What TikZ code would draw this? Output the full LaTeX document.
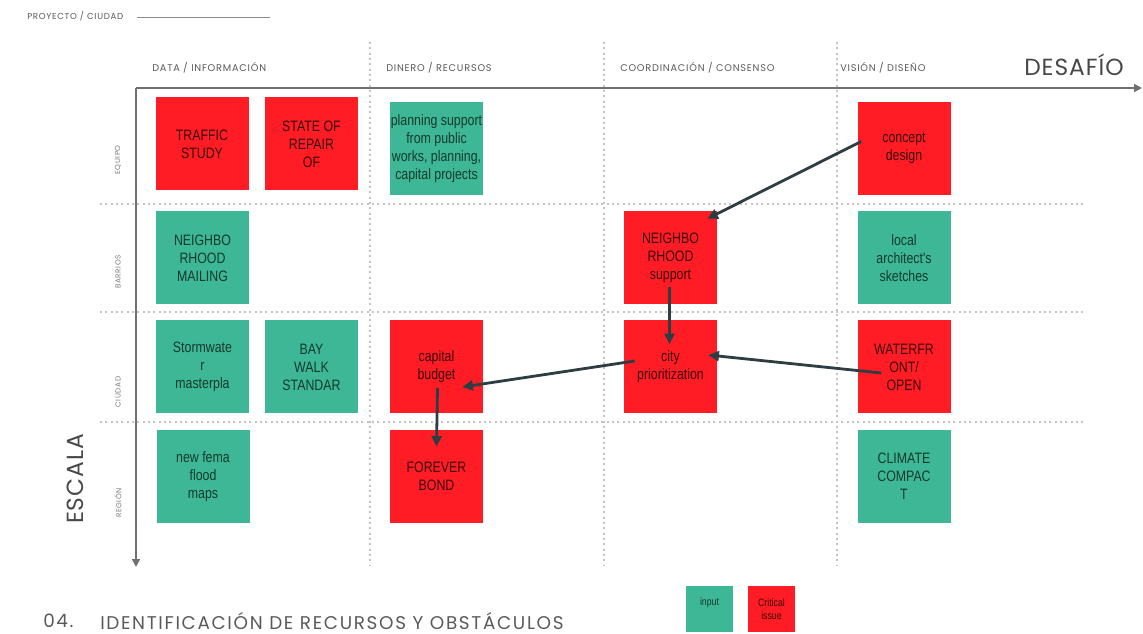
\documentclass[tikz,border=0pt]{standalone}
\usepackage{fontspec}
\setmainfont{Liberation Sans}
\newfontfamily\boxfont[FakeStretch=0.82]{Liberation Sans}
\newfontfamily\headfont[LetterSpace=8]{Poppins}
\newfontfamily\bigfont[LetterSpace=4]{Poppins}
\newfontfamily\footfont[LetterSpace=9]{Poppins}
\usetikzlibrary{arrows.meta,calc}
\definecolor{critred}{HTML}{FF1C24}
\definecolor{inpgreen}{HTML}{3DB795}
\definecolor{redtext}{HTML}{3A0A0C}
\definecolor{greentext}{HTML}{123A2D}
\definecolor{arrowc}{HTML}{2E3D42}
\definecolor{axisgray}{HTML}{707070}
\definecolor{divgray}{HTML}{C4C4C4}
\definecolor{headgray}{HTML}{5A5A5A}
\begin{document}
\begin{tikzpicture}[x=0.75pt,y=-0.75pt,
  box/.style={minimum width=69.75pt, minimum height=69.75pt, inner sep=0pt, align=center,
    font=\boxfont\fontsize{11.3}{13.5}\selectfont},
  crit/.style={box, fill=critred, text=redtext},
  inp/.style={box, fill=inpgreen, text=greentext},
  legbox/.style={minimum width=35pt, minimum height=35pt, inner sep=0pt, align=center,
    font=\boxfont\fontsize{8}{10}\selectfont},
  link/.style={draw=arrowc, line width=2.1pt, -{Triangle[length=8pt,width=7.5pt]}},
  divider/.style={draw=divgray, line width=0.8pt, dash pattern=on 1.5pt off 2.5pt},
  axis/.style={draw=axisgray, line width=1.3pt, -{Triangle[length=6pt,width=6pt]}},
  colhead/.style={font=\headfont\fontsize{7.3}{8}\selectfont, text=headgray, anchor=west, inner sep=0pt},
  rowhead/.style={font=\headfont\fontsize{5.5}{6}\selectfont, text=headgray!80, rotate=90, inner sep=0pt},
  bigtitle/.style={font=\bigfont\fontsize{17.5}{19}\selectfont, text=headgray!80!black, inner sep=0pt},
  foot/.style={font=\footfont\fontsize{13.8}{15}\selectfont, text=headgray, anchor=west, inner sep=0pt}
]
\useasboundingbox (0,0) rectangle (1143,634);
\fill[white] (0,0) rectangle (1143,634);

% dividers
\foreach \x in {370,604,837} \draw[divider] (\x,42) -- (\x,565);
\foreach \y in {204,312,422} \draw[divider] (100,\y) -- (1085,\y);

% axes
\coordinate (origin) at (136,88);
\coordinate (xend) at (1142,88);
\coordinate (yend) at (136,567);
\draw[axis] (origin) -- (xend);
\draw[axis] (origin) -- (yend);

% headers
\node[font=\headfont\fontsize{6.5}{7}\selectfont, text=headgray, anchor=west, inner sep=0pt] (proj) at (27,16) {PROYECTO / CIUDAD};
\coordinate (projl) at (137,17);
\coordinate (projr) at (270,17);
\draw[headgray!70, line width=0.7pt] (projl) -- (projr);

\node[colhead] (h1) at (152,68) {DATA / INFORMACIÓN};
\node[colhead] (h2) at (386,68) {DINERO / RECURSOS};
\node[colhead] (h3) at (620,68) {COORDINACIÓN / CONSENSO};
\node[colhead] (h4) at (840,68) {VISIÓN / DISEÑO};
\node[bigtitle, anchor=west] (desafio) at (1024,65) {DESAFÍO};

\node[rowhead] (r1) at (118,160) {EQUIPO};
\node[rowhead] (r2) at (118,272) {BARRIOS};
\node[rowhead] (r3) at (118,392) {CIUDAD};
\node[rowhead] (r4) at (118,503) {REGIÓN};
\node[bigtitle, rotate=90] (escala) at (75,479) {ESCALA};

\node[foot] (num) at (43,621) {04.};
\node[foot] (title) at (100,621) {IDENTIFICACIÓN DE RECURSOS Y OBSTÁCULOS};

% boxes
\node[crit] (traffic) at (202,144) {TRAFFIC\\STUDY};
\node[crit] (state) at (311.5,144) {STATE OF\\REPAIR\\OF};
\node[inp] (planning) at (436.5,148.5) {planning support\\from public\\works, planning,\\capital projects};
\node[crit] (concept) at (904,148.5) {concept\\design};

\node[inp] (mailing) at (202.5,258) {NEIGHBO\\RHOOD\\MAILING};
\node[crit] (nbs) at (670.5,257.5) {NEIGHBO\\RHOOD\\support};
\node[inp] (local) at (904,258) {local\\architect's\\sketches};

\node[inp] (storm) at (202.5,367) {Stormwate\\r\\masterpla};
\node[inp] (bay) at (311.5,367) {BAY\\WALK\\STANDAR};
\node[crit] (capital) at (436.5,367) {capital\\budget};
\node[crit] (city) at (670.5,367) {city\\prioritization};
\node[crit] (water) at (904,367) {WATERFR\\ONT/\\OPEN};

\node[inp] (fema) at (203,477) {new fema\\flood\\maps};
\node[crit] (forever) at (436.5,476.5) {FOREVER\\BOND};
\node[inp] (climate) at (904,476.5) {CLIMATE\\COMPAC\\T};

% legend
\node[legbox, fill=inpgreen, text=greentext] (leginp) at (709.5,609) {input\\[0.2em]};
\node[legbox, fill=critred, text=redtext] (legcrit) at (771.5,609) {Critical\\issue};

% connectors
\draw[link] ($(concept.west)+(4,-7)$) -- ($(nbs.north east)+(-10,8)$);
\draw[link] ($(nbs.south)+(-1,-17)$) -- ($(city.north)+(-1,24)$);
\draw[link] ($(city.west)+(11,-6)$) -- ($(capital.east)+(-21,20)$);
\draw[link] ($(water.west)+(24,6)$) -- ($(city.east)+(-9,-12)$);
\draw[link] ($(capital.south)+(1,-26)$) -- ($(forever.north)+(0,17)$);
\end{tikzpicture}
\end{document}
